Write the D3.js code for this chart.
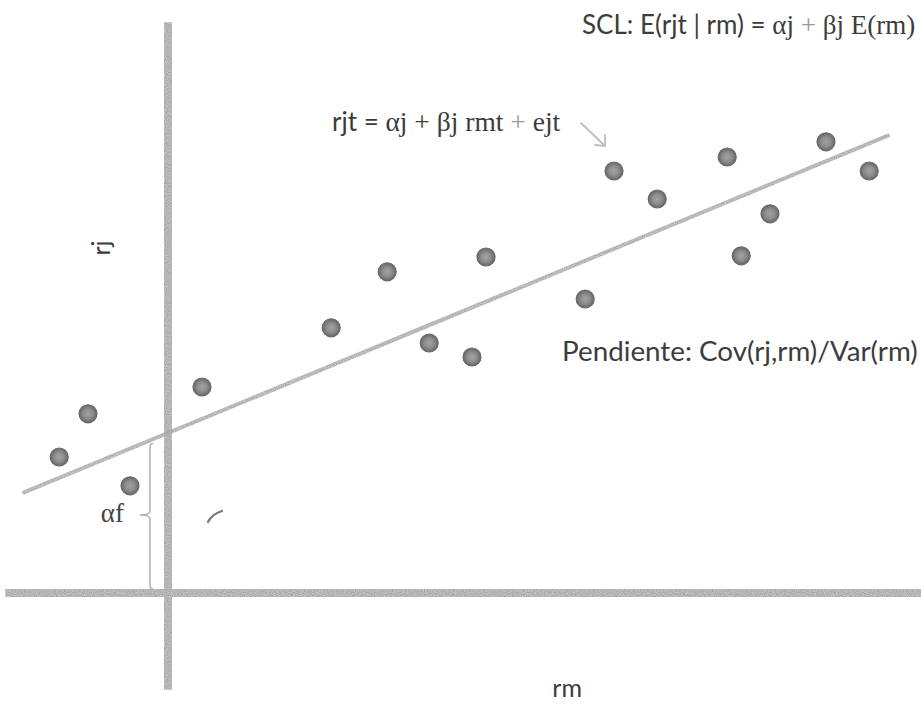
<!DOCTYPE html>
<html>
<head>
<meta charset="utf-8">
<script src="https://cdn.jsdelivr.net/npm/d3@7"></script>
<style>
  html, body { margin: 0; padding: 0; background: #fff; }
  svg { display: block; }
</style>
</head>
<body>
<script>
// Observed returns: market return (rm) and asset return (rj) per period
const rmValues = [-2.72, -2.0, -0.95, 0.85, 4.08, 5.48, 6.53, 7.6, 7.95, 10.43, 11.15, 12.23, 13.98, 14.33, 15.05, 16.45, 17.53];
const rjValues = [3.4, 4.48, 2.68, 5.15, 6.63, 8.03, 6.25, 5.9, 8.4, 7.35, 10.55, 9.85, 10.9, 8.43, 9.48, 11.28, 10.55];

// Characteristic line rj = alpha + beta * rm
const alpha = 4.0;
const beta = 0.413;
const lineRange = [-3.6, 18.0];

// Extent of the drawn axes, in data units
const xAxisExtent = [-4.07, 18.85];
const yAxisExtent = [-2.42, 14.27];

const W = 921, H = 704;
const x = d3.scaleLinear().domain([-4.2, 18.825]).range([0, W]);
const y = d3.scaleLinear().domain([14.825, -2.775]).range([0, H]);

const svg = d3.select("body").append("svg")
  .attr("width", W).attr("height", H)
  .attr("viewBox", `0 0 ${W} ${H}`);

const defs = svg.append("defs");
const grad = defs.append("radialGradient").attr("id", "dot");
grad.append("stop").attr("offset", "0%").attr("stop-color", "#a4a4a4");
grad.append("stop").attr("offset", "55%").attr("stop-color", "#8c8c8c");
grad.append("stop").attr("offset", "100%").attr("stop-color", "#666");

const grain = defs.append("filter").attr("id", "grain")
  .attr("x", "-5%").attr("y", "-5%").attr("width", "110%").attr("height", "110%");
grain.append("feTurbulence").attr("type", "fractalNoise").attr("baseFrequency", 0.9)
  .attr("numOctaves", 1).attr("seed", 3).attr("result", "noise");
grain.append("feColorMatrix").attr("in", "noise").attr("type", "matrix")
  .attr("values", "0 0 0 0 0  0 0 0 0 0  0 0 0 0 0  0 0 0 -0.9 1.25").attr("result", "mask");
grain.append("feComposite").attr("in", "SourceGraphic").attr("in2", "mask").attr("operator", "in");

const textColor = "#3c3c3c";
const sans = "Lato, 'Open Sans', sans-serif";
const serif = "'Liberation Serif', 'DejaVu Serif', serif";

// Axes: horizontal (rm) and vertical (rj) through the origin
const axes = svg.append("g").attr("stroke", "#a3a3a3").attr("filter", "url(#grain)");
axes.append("line")
  .attr("x1", x(xAxisExtent[0])).attr("x2", x(xAxisExtent[1]))
  .attr("y1", y(0)).attr("y2", y(0))
  .attr("stroke-width", 8);
axes.append("line")
  .attr("x1", x(0)).attr("x2", x(0))
  .attr("y1", y(yAxisExtent[1])).attr("y2", y(yAxisExtent[0]))
  .attr("stroke-width", 8);

// Intercept brace
const bx = x(-0.45);
const yTop = y(alpha + beta * -0.45) + 3;
const yBot = y(0) - 4;
const yMid = 515;
svg.append("path")
  .attr("d", `M${bx + 3},${yTop} Q${bx},${yTop} ${bx},${yTop + 4} L${bx},${yMid - 4} Q${bx},${yMid} ${bx - 10},${yMid} Q${bx},${yMid} ${bx},${yMid + 4} L${bx},${yBot - 4} Q${bx},${yBot} ${bx + 3},${yBot}`)
  .attr("fill", "none").attr("stroke", "#b0b0b0").attr("stroke-width", 1.5);

svg.append("text")
  .attr("x", bx - 26).attr("y", yMid + 7)
  .attr("text-anchor", "end")
  .attr("font-family", serif).attr("font-size", 27).attr("fill", "#444")
  .text("αf");

// Regression line
svg.append("line")
  .attr("x1", x(lineRange[0])).attr("y1", y(alpha + beta * lineRange[0]))
  .attr("x2", x(lineRange[1])).attr("y2", y(alpha + beta * lineRange[1]))
  .attr("stroke", "#a8a8a8").attr("stroke-width", 4)
  .attr("stroke-linecap", "round")
  .attr("filter", "url(#grain)");

// Observations
svg.append("g").selectAll("circle")
  .data(rmValues.map((v, i) => [v, rjValues[i]]))
  .join("circle")
  .attr("cx", d => x(d[0])).attr("cy", d => y(d[1]))
  .attr("r", 9)
  .attr("fill", "url(#dot)")
  .attr("stroke", "#6a6a6a").attr("stroke-width", 1.2);

// Small stray pen stroke
svg.append("path")
  .attr("d", "M208,522 Q212,514 222,511")
  .attr("fill", "none").attr("stroke", "#777").attr("stroke-width", 2.2)
  .attr("stroke-linecap", "round");

// Arrow pointing at an observation
const arrow = svg.append("g").attr("stroke", "#bdbdbd").attr("stroke-width", 1.8)
  .attr("fill", "none").attr("stroke-linecap", "round");
arrow.append("path").attr("d", "M581,123 L605,146");
arrow.append("path").attr("d", "M595,145 L605,146 L605,135");

// Axis titles
svg.append("text")
  .attr("x", x(9.98)).attr("y", 697)
  .attr("text-anchor", "middle")
  .attr("font-family", sans).attr("font-size", 25).attr("fill", textColor)
  .text("rm");

svg.append("text")
  .attr("transform", `translate(110,248) rotate(-90)`)
  .attr("text-anchor", "middle")
  .attr("font-family", sans).attr("font-size", 25).attr("fill", textColor)
  .text("rj");

// Equations
const scl = svg.append("text")
  .attr("x", 582).attr("y", 34)
  .attr("fill", textColor);
scl.append("tspan").attr("font-family", sans).attr("font-size", 26).text("SCL: E(rjt | rm) = ");
scl.append("tspan").attr("font-family", serif).attr("font-size", 27).text("αj ");
scl.append("tspan").attr("font-family", serif).attr("font-size", 27).attr("fill", "#999").text("+");
scl.append("tspan").attr("font-family", serif).attr("font-size", 27).text(" βj E(rm)");

const model = svg.append("text")
  .attr("x", 332).attr("y", 131)
  .attr("fill", textColor);
model.append("tspan").attr("font-family", sans).attr("font-size", 26).text("rjt = ");
model.append("tspan").attr("font-family", serif).attr("font-size", 27.5).text("αj + βj rmt ");
model.append("tspan").attr("font-family", serif).attr("font-size", 27.5).attr("fill", "#999").text("+");
model.append("tspan").attr("font-family", serif).attr("font-size", 27.5).text(" ejt");

svg.append("text")
  .attr("x", 562).attr("y", 361)
  .attr("font-family", sans).attr("font-size", 27.8).attr("fill", textColor)
  .text("Pendiente: Cov(rj,rm)/Var(rm)");
</script>
</body>
</html>
